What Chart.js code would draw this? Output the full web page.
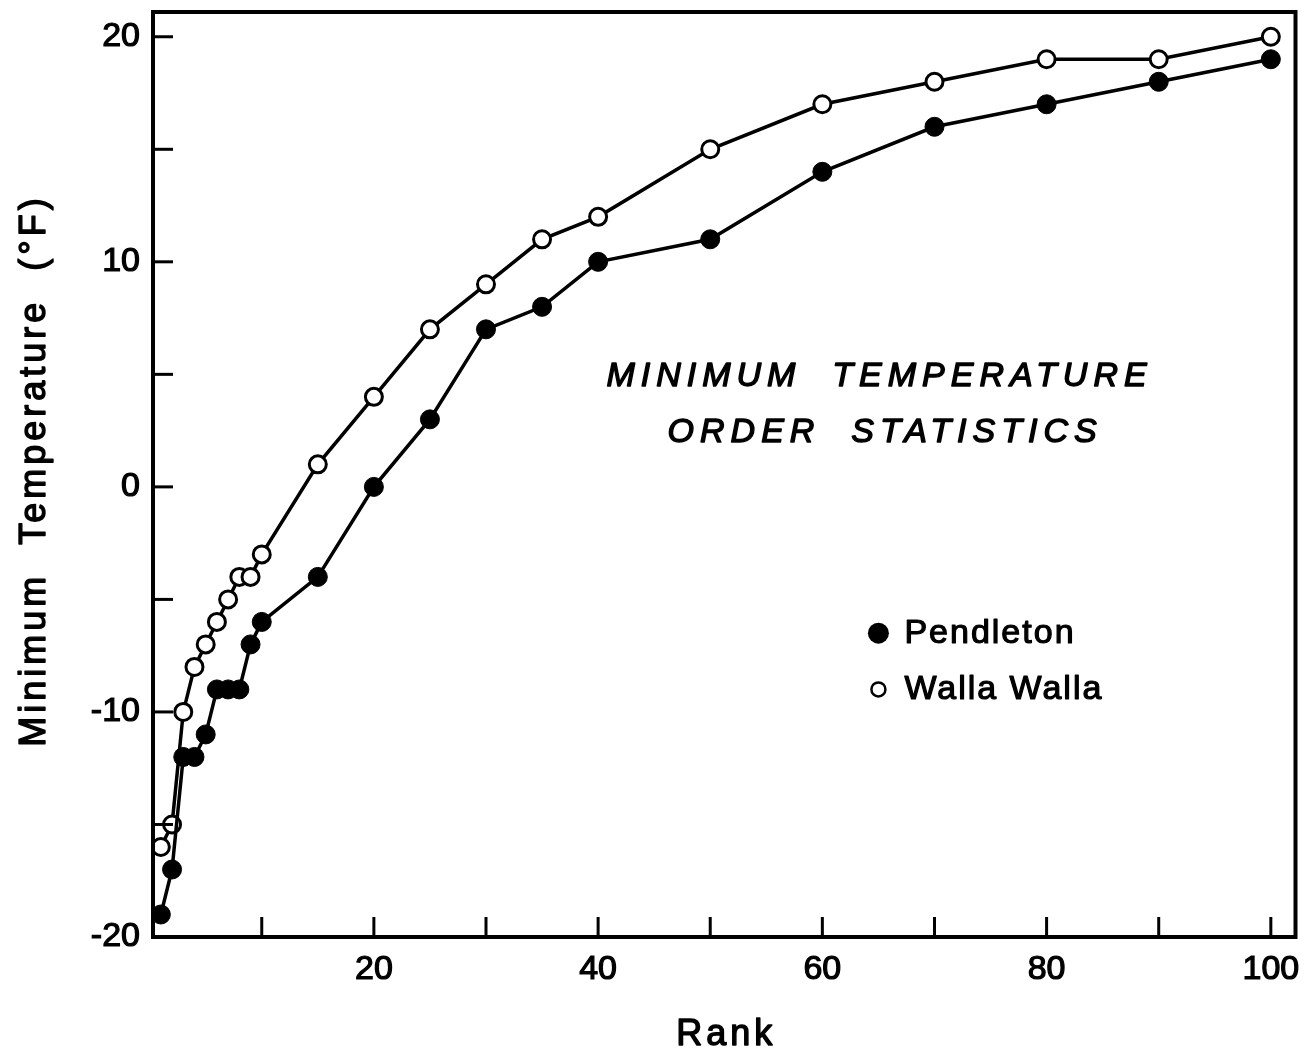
<!DOCTYPE html>
<html>
<head>
<meta charset="utf-8">
<title>Minimum Temperature Order Statistics</title>
<script src="https://cdn.jsdelivr.net/npm/chart.js@4.4.1/dist/chart.umd.min.js"></script>
<style>
    html, body { margin: 0; padding: 0; background: #fff; }
    #wrap { width: 1307px; height: 1051px; }
</style>
</head>
<body>
<div id="wrap"><canvas id="chart" width="1307" height="1051"></canvas></div>
<script>
// =============================================================================
// Data
// =============================================================================

const ranks      = [1, 2, 3, 4, 5, 6, 7, 8, 9, 10, 15, 20, 25, 30, 35, 40, 50, 60, 70, 80, 90, 100];
const pendleton  = [-19, -17, -12, -12, -11, -9, -9, -9, -7, -6, -4, 0, 3, 7, 8, 10, 11, 14, 16, 17, 18, 19];
const wallaWalla = [-16, -15, -10, -8, -7, -6, -5, -4, -4, -3, 1, 4, 7, 9, 11, 12, 15, 17, 18, 19, 19, 20];

const seriesNames = ['Pendleton', 'Walla Walla'];
const titleLines  = ['MINIMUM  TEMPERATURE', 'ORDER  STATISTICS'];
const xTitle = 'Rank';
const yTitle = 'Minimum  Temperature  (°F)';

const FONT = '"Liberation Sans", Arial, sans-serif';
const INK = '#000';

function toPoints(ys) {
    return ranks.map((r, i) => ({ x: r, y: ys[i] }));
}

// heavier text, like the old lettering guide
function inkText(ctx, text, x, y, w) {
    ctx.lineWidth = w;
    ctx.strokeText(text, x, y);
    ctx.fillText(text, x, y);
}

// =============================================================================
// Plugins: frame, inward ticks, titles and legend
// =============================================================================

const framePlugin = {
    id: 'frame',
    afterDatasetsDraw(chart) {
        const { ctx, chartArea: a, scales } = chart;
        ctx.save();
        ctx.strokeStyle = INK;
        ctx.lineWidth = 4;
        ctx.strokeRect(a.left, a.top, a.right - a.left, a.bottom - a.top);

        // inward tick marks on the left and bottom edges
        ctx.lineWidth = 3;
        const tickLen = 20;
        scales.x.ticks.forEach(t => {
            const px = scales.x.getPixelForValue(t.value);
            ctx.beginPath();
            ctx.moveTo(px, a.bottom);
            ctx.lineTo(px, a.bottom - tickLen);
            ctx.stroke();
        });
        scales.y.ticks.forEach(t => {
            const py = scales.y.getPixelForValue(t.value);
            ctx.beginPath();
            ctx.moveTo(a.left, py);
            ctx.lineTo(a.left + tickLen, py);
            ctx.stroke();
        });
        ctx.restore();
    }
};

const notesPlugin = {
    id: 'notes',
    afterDraw(chart) {
        const { ctx, scales, chartArea: a } = chart;
        const x = scales.x, y = scales.y;
        ctx.save();
        ctx.fillStyle = INK;
        ctx.strokeStyle = INK;
        ctx.lineJoin = 'round';
        ctx.textBaseline = 'middle';

        // axis titles
        ctx.font = '36px ' + FONT;
        ctx.textAlign = 'center';
        ctx.letterSpacing = '4px';
        inkText(ctx, xTitle, (a.left + a.right) / 2 + 2, 1035, 1.4);
        ctx.save();
        ctx.translate(35, (a.top + a.bottom) / 2 - 4);
        ctx.rotate(-Math.PI / 2);
        inkText(ctx, yTitle, 0, 0, 1.4);
        ctx.restore();

        // figure title inside the plot
        ctx.font = 'italic 34px ' + FONT;
        ctx.letterSpacing = '6px';
        inkText(ctx, titleLines[0], x.getPixelForValue(65.1), y.getPixelForValue(4.9), 1.4);
        inkText(ctx, titleLines[1], x.getPixelForValue(65.6), y.getPixelForValue(2.4), 1.4);

        // legend
        ctx.font = '34px ' + FONT;
        ctx.letterSpacing = '2px';
        ctx.textAlign = 'left';
        const lx = x.getPixelForValue(65), tx = lx + 26;
        const ly1 = y.getPixelForValue(-6.5), ly2 = y.getPixelForValue(-9);
        ctx.beginPath();
        ctx.arc(lx, ly1, 10.5, 0, Math.PI * 2);
        ctx.fill();
        inkText(ctx, seriesNames[0], tx, ly1, 1.2);

        ctx.beginPath();
        ctx.lineWidth = 2.5;
        ctx.arc(lx, ly2, 7, 0, Math.PI * 2);
        ctx.stroke();
        inkText(ctx, seriesNames[1], tx, ly2, 1.2);
        ctx.restore();
    }
};

// =============================================================================
// Chart
// =============================================================================

const ctx = document.getElementById('chart').getContext('2d');

new Chart(ctx, {
    type: 'scatter',
    data: {
        datasets: [
            {
                label: seriesNames[0],
                data: toPoints(pendleton),
                showLine: true,
                borderColor: INK,
                borderWidth: 3.5,
                pointBackgroundColor: INK,
                pointBorderColor: INK,
                pointBorderWidth: 1,
                pointRadius: 9.5,
                pointHoverRadius: 9.5
            },
            {
                label: seriesNames[1],
                data: toPoints(wallaWalla),
                showLine: true,
                borderColor: INK,
                borderWidth: 3.5,
                pointBackgroundColor: '#fff',
                pointBorderColor: INK,
                pointBorderWidth: 3,
                pointRadius: 8.5,
                pointHoverRadius: 8.5
            }
        ]
    },
    options: {
        responsive: false,
        animation: false,
        layout: { padding: { top: 12, right: 9, left: 0, bottom: 0 } },
        plugins: {
            legend: { display: false },
            tooltip: { enabled: false }
        },
        scales: {
            x: {
                type: 'linear',
                min: 0.3,
                max: 102.2,
                grid: { display: false, drawTicks: false },
                border: { display: false },
                ticks: {
                    stepSize: 10,
                    includeBounds: false,
                    autoSkip: false,
                    maxRotation: 0,
                    padding: 12,
                    color: INK,
                    textStrokeColor: INK,
                    textStrokeWidth: 1.2,
                    font: { family: FONT, size: 34 },
                    callback: v => (v % 20 === 0 ? v : '')
                },
                afterFit: s => {
                    s.height = 1051 - 937;
                    s.paddingLeft = 0;
                    s.paddingRight = 0;
                }
            },
            y: {
                min: -20,
                max: 21.1,
                grid: { display: false, drawTicks: false },
                border: { display: false },
                ticks: {
                    stepSize: 5,
                    includeBounds: false,
                    autoSkip: false,
                    padding: 13,
                    color: INK,
                    textStrokeColor: INK,
                    textStrokeWidth: 1.2,
                    font: { family: FONT, size: 34 },
                    callback: v => (v % 10 === 0 ? v : '')
                },
                afterFit: s => {
                    s.width = 153;
                    s.paddingTop = 0;
                    s.paddingBottom = 0;
                }
            }
        }
    },
    plugins: [framePlugin, notesPlugin]
});
</script>
</body>
</html>
